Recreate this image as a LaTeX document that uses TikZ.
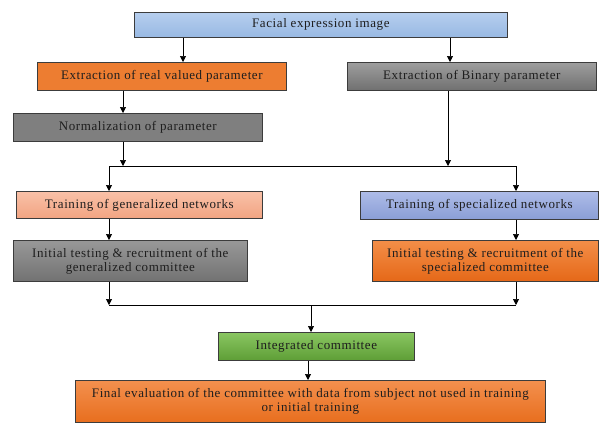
\documentclass[tikz,border=0pt]{standalone}
\usepackage{fontspec}
\setmainfont{Liberation Serif}[LetterSpace=4.5]
\usetikzlibrary{arrows.meta}
\definecolor{txt}{RGB}{30,30,30}
\definecolor{edge}{RGB}{60,60,60}
\tikzset{
  box/.style={draw=edge, line width=0.7pt, inner sep=1pt, align=center,
    text=txt, font=\fontsize{13}{14}\selectfont, anchor=north west},
  arr/.style={draw=black, line width=0.7pt, -{Triangle[length=6pt,width=6pt]}},
  ln/.style={draw=black, line width=0.7pt},
}
\newcommand{\bx}[7]{% name, x1, y1, x2, y2, style, text
  \node[box, #6, minimum width={#4-#2}, minimum height={#5-#3}] (#1) at (#2,#3) {#7};}
\begin{document}
\begin{tikzpicture}[x=1pt,y=-1pt]
\useasboundingbox (0,0) rectangle (599,424);
\bx{facial}{134}{12}{507}{37}{top color={rgb,255:red,182;green,206;blue,238}, bottom color={rgb,255:red,152;green,185;blue,227}}{Facial expression image}
\bx{real}{37}{62}{286}{90}{fill={rgb,255:red,237;green,125;blue,49}}{Extraction of real valued parameter}
\bx{binary}{347}{62}{596}{90}{top color={rgb,255:red,158;green,158;blue,158}, bottom color={rgb,255:red,112;green,112;blue,112}}{Extraction of Binary parameter}
\bx{norm}{13}{113}{262}{141}{fill={rgb,255:red,127;green,127;blue,127}}{Normalization of parameter}
\bx{tgen}{16}{191}{262}{218}{top color={rgb,255:red,249;green,193;blue,168}, bottom color={rgb,255:red,242;green,164;blue,130}}{Training of generalized networks}
\bx{tspec}{360}{191}{598}{219}{top color={rgb,255:red,174;green,188;blue,232}, bottom color={rgb,255:red,138;green,158;blue,214}}{Training of specialized networks}
\bx{igen}{13}{240}{247}{281}{top color={rgb,255:red,152;green,152;blue,152}, bottom color={rgb,255:red,114;green,114;blue,114}}{Initial testing \& recruitment of the\\generalized committee}
\bx{ispec}{372}{240}{598}{281}{top color={rgb,255:red,243;green,142;blue,72}, bottom color={rgb,255:red,229;green,104;blue,24}}{Initial testing \& recruitment of the\\specialized committee}
\bx{integ}{218}{332}{414}{360}{top color={rgb,255:red,138;green,198;blue,98}, bottom color={rgb,255:red,94;green,158;blue,54}}{Integrated committee}
\bx{final}{75}{380}{545}{422}{top color={rgb,255:red,243;green,144;blue,78}, bottom color={rgb,255:red,232;green,110;blue,30}}{Final evaluation of the committee with data from subject not used in training\\or initial training}
% guide coordinates
\coordinate (xa) at (183,0);
\coordinate (xb) at (450,0);
\coordinate (xc) at (123,0);
\coordinate (xd) at (448,0);
\coordinate (xl) at (109,0);
\coordinate (xr) at (516,0);
\coordinate (xm) at (311,0);
\coordinate (xf) at (308,0);
\coordinate (split) at (0,166);
\coordinate (merge) at (0,305);
\draw[arr] (facial.south -| xa) -- (real.north -| xa);
\draw[arr] (facial.south -| xb) -- (binary.north -| xb);
\draw[arr] (real.south -| xc) -- (norm.north -| xc);
\draw[arr] (norm.south -| xc) -- (split -| xc);
\draw[arr] (binary.south -| xd) -- (split -| xd);
\draw[ln] (split -| xl) -- (split -| xr);
\draw[arr] (split -| xl) -- (tgen.north -| xl);
\draw[arr] (split -| xr) -- (tspec.north -| xr);
\draw[arr] (tgen.south -| xl) -- (igen.north -| xl);
\draw[arr] (tspec.south -| xr) -- (ispec.north -| xr);
\draw[arr] (igen.south -| xl) -- (merge -| xl);
\draw[arr] (ispec.south -| xr) -- (merge -| xr);
\draw[ln] (merge -| xl) -- (merge -| xr);
\draw[arr] (merge -| xm) -- (integ.north -| xm);
\draw[arr] (integ.south -| xf) -- (final.north -| xf);
\end{tikzpicture}
\end{document}
